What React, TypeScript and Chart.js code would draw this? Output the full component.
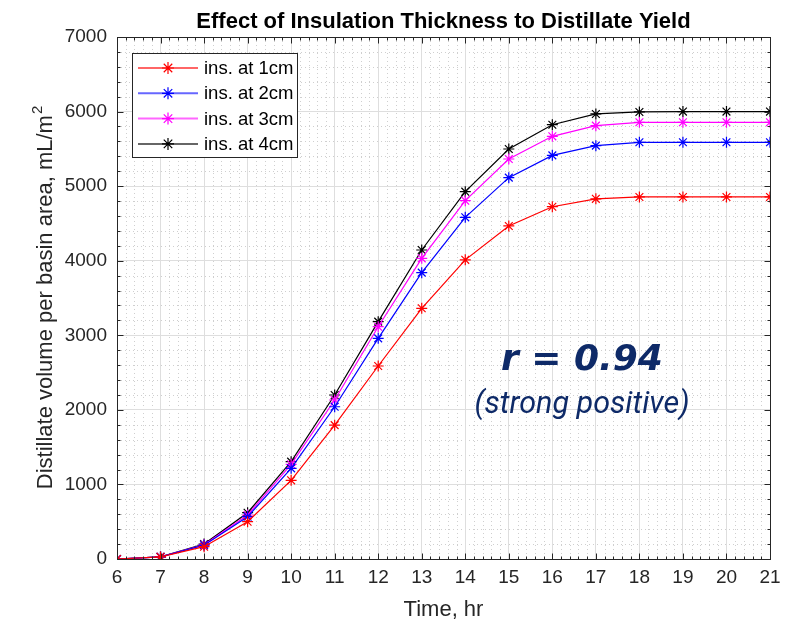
import React, { useEffect, useRef } from "react";
import { Chart, registerables } from "chart.js";

Chart.register(...registerables);

const hours = [6, 7, 8, 9, 10, 11, 12, 13, 14, 15, 16, 17, 18, 19, 20, 21];
const ins1cm = [0, 28, 165, 500, 1055, 1795, 2588, 3362, 4012, 4466, 4724, 4830, 4855, 4855, 4855, 4855];
const ins2cm = [0, 28, 185, 567, 1216, 2042, 2959, 3840, 4582, 5114, 5413, 5543, 5588, 5588, 5588, 5588];
const ins3cm = [0, 28, 190, 590, 1270, 2132, 3115, 4032, 4805, 5364, 5668, 5811, 5856, 5856, 5856, 5856];
const ins4cm = [0, 28, 200, 621, 1305, 2199, 3183, 4144, 4926, 5498, 5824, 5968, 5995, 6000, 6000, 6000];
const seriesLabels = ["ins. at 1cm", "ins. at 2cm", "ins. at 3cm", "ins. at 4cm"];
const seriesColors = ["#ff0000", "#0000ff", "#ff00ff", "#000000"];
const chartTitle = "Effect of Insulation Thickness to Distillate Yield";
const xTitle = "Time, hr";
const yTitleMain = "Distillate volume per basin area, mL/m";
const yTitleSup = "2";
const noteMain = "r = 0.94";
const noteSub = "(strong positive)";
const noteX = 16.68;
const noteMainY = 2665;
const noteSubY = 2060;

const FONT = "'Liberation Sans', Arial, Helvetica, sans-serif";
const AXIS_COLOR = "#262626";

function drawStar(ctx: CanvasRenderingContext2D, cx: number, cy: number, r: number) {
  ctx.beginPath();
  ctx.moveTo(cx, cy - r);
  ctx.lineTo(cx, cy + r);
  ctx.moveTo(cx - r, cy);
  ctx.lineTo(cx + r, cy);
  const d = r * Math.SQRT1_2;
  ctx.moveTo(cx - d, cy - d);
  ctx.lineTo(cx + d, cy + d);
  ctx.moveTo(cx - d, cy + d);
  ctx.lineTo(cx + d, cy - d);
  ctx.stroke();
}

const overlayPlugin = {
  id: "overlay",
  beforeDraw(chart: any) {
    const { ctx, chartArea: a, scales } = chart;
    const x = scales.x;
    const y = scales.y;
    ctx.save();
    ctx.fillStyle = "#ffffff";
    ctx.fillRect(0, 0, chart.width, chart.height);
    ctx.strokeStyle = "#cfcfcf";
    ctx.lineWidth = 1;
    ctx.setLineDash([1, 3]);
    for (let v = x.min; v <= x.max + 1e-9; v += 0.2) {
      if (Math.abs(v - Math.round(v)) < 1e-6) continue;
      const px = Math.round(x.getPixelForValue(v)) + 0.5;
      ctx.beginPath();
      ctx.moveTo(px, a.top);
      ctx.lineTo(px, a.bottom);
      ctx.stroke();
    }
    for (let v = y.min; v <= y.max + 1e-9; v += 200) {
      if (Math.abs(v / 1000 - Math.round(v / 1000)) < 1e-6) continue;
      const py = Math.round(y.getPixelForValue(v)) + 0.5;
      ctx.beginPath();
      ctx.moveTo(a.left, py);
      ctx.lineTo(a.right, py);
      ctx.stroke();
    }
    ctx.restore();
  },
  afterDraw(chart: any) {
    const { ctx, chartArea: a, scales } = chart;
    const x = scales.x;
    const y = scales.y;
    ctx.save();
    ctx.strokeStyle = AXIS_COLOR;
    ctx.lineWidth = 1;
    ctx.setLineDash([]);
    const L = Math.round(a.left) + 0.5;
    const R = Math.round(a.right) + 0.5;
    const T = Math.round(a.top) + 0.5;
    const B = Math.round(a.bottom) + 0.5;
    ctx.strokeRect(L, T, R - L, B - T);
    ctx.beginPath();
    for (let v = x.min; v <= x.max + 1e-9; v += 0.2) {
      const major = Math.abs(v - Math.round(v)) < 1e-6;
      const len = major ? 6 : 3;
      const px = Math.round(x.getPixelForValue(v)) + 0.5;
      ctx.moveTo(px, B);
      ctx.lineTo(px, B - len);
      ctx.moveTo(px, T);
      ctx.lineTo(px, T + len);
    }
    for (let v = y.min; v <= y.max + 1e-9; v += 200) {
      const major = Math.abs(v / 1000 - Math.round(v / 1000)) < 1e-6;
      const len = major ? 6 : 3;
      const py = Math.round(y.getPixelForValue(v)) + 0.5;
      ctx.moveTo(L, py);
      ctx.lineTo(L + len, py);
      ctx.moveTo(R, py);
      ctx.lineTo(R - len, py);
    }
    ctx.stroke();

    const cxArea = (a.left + a.right) / 2;
    const cyArea = (a.top + a.bottom) / 2;

    ctx.fillStyle = "#000000";
    ctx.font = `bold 22px ${FONT}`;
    ctx.textAlign = "center";
    ctx.textBaseline = "alphabetic";
    ctx.fillText(chartTitle, cxArea, 28);

    ctx.fillStyle = AXIS_COLOR;
    ctx.font = `22px ${FONT}`;
    ctx.textBaseline = "alphabetic";
    ctx.fillText(xTitle, cxArea, 616);

    ctx.save();
    ctx.translate(52, cyArea);
    ctx.rotate(-Math.PI / 2);
    ctx.font = `22px ${FONT}`;
    const wMain = ctx.measureText(yTitleMain).width;
    ctx.font = `15px ${FONT}`;
    const wSup = ctx.measureText(yTitleSup).width;
    const start = -(wMain + wSup) / 2;
    ctx.textAlign = "left";
    ctx.font = `22px ${FONT}`;
    ctx.fillText(yTitleMain, start, 0);
    ctx.font = `15px ${FONT}`;
    ctx.fillText(yTitleSup, start + wMain + 1, -10);
    ctx.restore();

    const lx = a.left + 15;
    const ly = a.top + 16;
    const lw = 165;
    const lh = 104;
    ctx.fillStyle = "#ffffff";
    ctx.fillRect(lx, ly, lw, lh);
    ctx.strokeStyle = AXIS_COLOR;
    ctx.lineWidth = 1;
    ctx.strokeRect(Math.round(lx) + 0.5, Math.round(ly) + 0.5, lw, lh);
    chart.data.datasets.forEach((ds: any, i: number) => {
      const ry = ly + 15 + i * 25.3;
      ctx.strokeStyle = ds.borderColor;
      ctx.globalAlpha = 0.6;
      ctx.lineWidth = 2;
      ctx.beginPath();
      ctx.moveTo(lx + 6, ry);
      ctx.lineTo(lx + 66, ry);
      ctx.stroke();
      ctx.globalAlpha = 1;
      ctx.lineWidth = 1.2;
      drawStar(ctx, lx + 36, ry, 6);
      ctx.fillStyle = "#000000";
      ctx.font = `18.5px ${FONT}`;
      ctx.textAlign = "left";
      ctx.textBaseline = "middle";
      ctx.fillText(ds.label, lx + 72, ry + 1);
    });

    const nx = x.getPixelForValue(noteX);
    ctx.fillStyle = "#0e2a68";
    ctx.textAlign = "center";
    ctx.textBaseline = "middle";
    ctx.font = `italic bold 36px 'DejaVu Sans', sans-serif`;
    ctx.fillText(noteMain, nx, y.getPixelForValue(noteMainY));
    ctx.font = `italic 30.5px Roboto, 'Open Sans', sans-serif`;
    ctx.fillText(noteSub, nx, y.getPixelForValue(noteSubY));
    ctx.restore();
  },
};

export default function App() {
  const canvasRef = useRef<HTMLCanvasElement | null>(null);

  useEffect(() => {
    const canvas = canvasRef.current;
    if (!canvas) return;
    const allSeries = [ins1cm, ins2cm, ins3cm, ins4cm];
    const chart = new Chart(canvas, {
      type: "line",
      data: {
        datasets: allSeries.map((vals, i) => ({
          label: seriesLabels[i],
          data: hours.map((h, j) => ({ x: h, y: vals[j] })),
          borderColor: seriesColors[i],
          backgroundColor: seriesColors[i],
          borderWidth: 1.2,
          pointStyle: "star",
          pointRadius: 5.5,
          pointBorderWidth: 1.2,
          pointBorderColor: seriesColors[i],
          fill: false,
          tension: 0,
        })),
      },
      options: {
        responsive: false,
        animation: false,
        layout: { padding: { top: 37, right: 37, left: 0, bottom: 0 } },
        plugins: {
          legend: { display: false },
          title: { display: false },
          tooltip: { enabled: false },
        },
        scales: {
          x: {
            type: "linear",
            min: 6,
            max: 21,
            afterFit: (s: any) => {
              s.height = 63;
            },
            ticks: {
              stepSize: 1,
              padding: 7,
              color: AXIS_COLOR,
              font: { family: FONT, size: 19 },
              maxRotation: 0,
              autoSkip: false,
              callback: (v: any) => String(v),
            },
            grid: { color: "#dedede", drawTicks: false, lineWidth: 1 },
            border: { display: false },
          },
          y: {
            type: "linear",
            min: 0,
            max: 7000,
            afterFit: (s: any) => {
              s.width = 117;
            },
            ticks: {
              stepSize: 1000,
              padding: 10,
              color: AXIS_COLOR,
              font: { family: FONT, size: 19 },
              callback: (v: any) => String(v),
            },
            grid: { color: "#dedede", drawTicks: false, lineWidth: 1 },
            border: { display: false },
          },
        },
      },
      plugins: [overlayPlugin],
    } as any);
    return () => chart.destroy();
  }, []);

  return (
    <div style={{ position: "fixed", left: 0, top: 0, width: 807, height: 622, background: "#fff" }}>
      <canvas ref={canvasRef} width={807} height={622} style={{ width: 807, height: 622, display: "block" }} />
    </div>
  );
}
